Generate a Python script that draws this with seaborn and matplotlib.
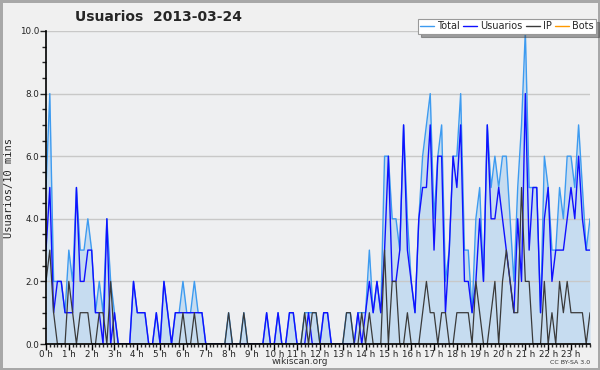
import numpy as np
import pandas as pd
import matplotlib
matplotlib.use("Agg")
import matplotlib.pyplot as plt
import seaborn as sns
from matplotlib.ticker import MultipleLocator, FixedLocator, FormatStrFormatter
from matplotlib.lines import Line2D

# ---- data (one value per 10 minutes, 144 slots) ----
usuarios = [
    3, 5, 1, 2, 2, 1, 1, 1, 5, 2, 2, 3, 3, 1, 1, 0, 4, 0, 1, 0,
    0, 0, 0, 2, 1, 1, 1, 0, 0, 1, 0, 2, 1, 0, 1, 1, 1, 1, 1, 1,
    1, 1, 0, 0, 0, 0, 0, 0, 0, 0, 0, 0, 0, 0, 0, 0, 0, 0, 1, 0,
    0, 1, 0, 0, 1, 1, 0, 0, 0, 1, 0, 0, 0, 1, 1, 0, 0, 0, 0, 0,
    0, 0, 1, 0, 1, 2, 1, 2, 1, 3, 6, 2, 2, 3, 7, 3, 2, 1, 4, 5,
    5, 7, 3, 6, 6, 1, 3, 6, 5, 7, 2, 2, 1, 2, 4, 2, 7, 4, 4, 5,
    4, 3, 2, 1, 4, 2, 8, 3, 5, 5, 1, 4, 5, 2, 3, 3, 3, 4, 5, 4,
    6, 4, 3, 3]
ip = [
    2, 3, 1, 0, 0, 0, 2, 1, 0, 1, 1, 1, 0, 0, 1, 1, 0, 2, 0, 0,
    0, 0, 0, 0, 0, 0, 0, 0, 0, 0, 0, 0, 0, 0, 0, 0, 1, 0, 0, 1,
    0, 0, 0, 0, 0, 0, 0, 0, 1, 0, 0, 0, 1, 0, 0, 0, 0, 0, 0, 0,
    0, 0, 0, 0, 0, 0, 0, 0, 1, 0, 1, 1, 0, 0, 0, 0, 0, 0, 0, 1,
    1, 0, 0, 1, 0, 1, 0, 0, 0, 3, 0, 2, 2, 0, 0, 1, 0, 0, 0, 1,
    2, 1, 1, 0, 1, 1, 0, 0, 1, 1, 1, 1, 0, 2, 1, 0, 0, 1, 2, 0,
    2, 3, 2, 1, 1, 5, 2, 2, 0, 0, 0, 2, 0, 1, 0, 2, 1, 2, 1, 1,
    1, 1, 0, 1]
total = [
    5, 8, 2, 2, 2, 1, 3, 2, 5, 3, 3, 4, 3, 1, 2, 1, 4, 2, 1, 0,
    0, 0, 0, 2, 1, 1, 1, 0, 0, 1, 0, 2, 1, 0, 1, 1, 2, 1, 1, 2,
    1, 1, 0, 0, 0, 0, 0, 0, 1, 0, 0, 0, 1, 0, 0, 0, 0, 0, 1, 0,
    0, 1, 0, 0, 1, 1, 0, 0, 1, 1, 1, 1, 0, 1, 1, 0, 0, 0, 0, 1,
    1, 0, 1, 1, 1, 3, 1, 2, 1, 6, 6, 4, 4, 3, 7, 4, 2, 1, 4, 6,
    7, 8, 4, 6, 7, 2, 3, 6, 6, 8, 3, 3, 1, 4, 5, 2, 7, 5, 6, 5,
    6, 6, 4, 2, 5, 7, 10, 5, 5, 5, 1, 6, 5, 3, 3, 5, 4, 6, 6, 5,
    7, 5, 3, 4]
bots = [
    0, 0, 0, 0, 0, 0, 0, 0, 0, 0, 0, 0, 0, 0, 0, 0, 0, 0, 0, 0,
    0, 0, 0, 0, 0, 0, 0, 0, 0, 0, 0, 0, 0, 0, 0, 0, 0, 0, 0, 0,
    0, 0, 0, 0, 0, 0, 0, 0, 0, 0, 0, 0, 0, 0, 0, 0, 0, 0, 0, 0,
    0, 0, 0, 0, 0, 0, 0, 0, 0, 0, 0, 0, 0, 0, 0, 0, 0, 0, 0, 0,
    0, 0, 0, 0, 0, 0, 0, 0, 0, 0, 0, 0, 0, 0, 0, 0, 0, 0, 0, 0,
    0, 0, 0, 0, 0, 0, 0, 0, 0, 0, 0, 0, 0, 0, 0, 0, 0, 0, 0, 0,
    0, 0, 0, 0, 0, 0, 0, 0, 0, 0, 0, 0, 0, 0, 0, 0, 0, 0, 0, 0,
    0, 0, 0, 0]
hour_labels = ["0 h", "1 h", "2 h", "3 h", "4 h", "5 h", "6 h", "7 h",
               "8 h", "9 h", "10 h", "11 h", "12 h", "13 h", "14 h", "15 h",
               "16 h", "17 h", "18 h", "19 h", "20 h", "21 h", "22 h", "23 h"]
series_names = ["Total", "Usuarios", "IP", "Bots"]

df = pd.DataFrame({"slot": np.arange(len(total)), "Total": total,
                   "Usuarios": usuarios, "IP": ip, "Bots": bots})

sns.set_style("white")
plt.rcParams["font.family"] = ["DejaVu Sans"]

colors = {"Total": "#3d9bf0", "Usuarios": "#1010ff", "IP": "#3a3a3a", "Bots": "#ff9900"}

fig = plt.figure(figsize=(6, 3.7), dpi=100, facecolor="#f0f0f0",
                 edgecolor="#a8a8a8", linewidth=2.5)
ax = fig.add_axes([46 / 600, 26 / 370, 544 / 600, 313 / 370])
ax.set_facecolor("#eeeff1")

ax.fill_between(df["slot"], df["Total"], 0, color="#c6dcf0", lw=0, zorder=1)
sns.lineplot(data=df, x="slot", y="Bots", color=colors["Bots"], lw=1, ax=ax, zorder=2.6)
sns.lineplot(data=df, x="slot", y="Total", color=colors["Total"], lw=1, ax=ax, zorder=3)
sns.lineplot(data=df, x="slot", y="Usuarios", color=colors["Usuarios"], lw=1, ax=ax, zorder=3.1)
sns.lineplot(data=df, x="slot", y="IP", color=colors["IP"], lw=0.9, ax=ax, zorder=3.2)

ax.set_xlim(0, 143)
ax.set_ylim(0, 10)
ax.xaxis.set_major_locator(FixedLocator(range(0, 144, 6)))
ax.set_xticklabels(hour_labels)
ax.xaxis.set_minor_locator(MultipleLocator(1))
ax.yaxis.set_major_locator(MultipleLocator(2))
ax.yaxis.set_major_formatter(FormatStrFormatter("%.1f"))
ax.yaxis.set_minor_locator(MultipleLocator(0.5))
ax.tick_params(axis="x", which="major", direction="out", length=4, width=1,
               labelsize=6.3, pad=0, colors="#000000", labelcolor="#222222")
ax.tick_params(axis="x", which="minor", direction="out", length=2.5, width=1)
ax.tick_params(axis="y", which="major", direction="out", length=4, width=1,
               labelsize=6.3, pad=1, labelcolor="#222222")
ax.tick_params(axis="y", which="minor", direction="out", length=3, width=1)
ax.tick_params(bottom=True, left=True, which="both")

ax.set_axisbelow(False)
ax.yaxis.grid(True, color="#c8c8c8", lw=1, zorder=2.5)
ax.xaxis.grid(False)
for s in ["top", "right"]:
    ax.spines[s].set_visible(False)
for s in ["left", "bottom"]:
    ax.spines[s].set_color("#000000")
    ax.spines[s].set_linewidth(1.2)
    ax.spines[s].set_zorder(4)

ax.set_xlabel("")
ax.set_ylabel("Usuarios/10 mins", family="DejaVu Sans Mono", fontsize=7.5)
ax.yaxis.set_label_coords(-0.058, 0.5)

fig.text(75 / 600, 1 - 17 / 370, "Usuarios  2013-03-24", fontweight="bold",
         fontsize=10, ha="left", va="center")

handles = [Line2D([], [], color=colors[n], lw=1) for n in series_names]
leg = fig.legend(handles, series_names, ncol=4, loc="upper right",
                 bbox_to_anchor=(596 / 600, 1 - 19 / 370), fontsize=7,
                 frameon=True, fancybox=False, shadow=True, framealpha=1,
                 edgecolor="#999999", handlelength=1.4, handletextpad=0.3,
                 columnspacing=0.4, borderpad=0.25, borderaxespad=0)
leg.get_frame().set_linewidth(0.8)

fig.text(0.5, 1 - 362 / 370, "wikiscan.org", ha="center", va="center",
         fontsize=6.5, color="#333333")
fig.text(590 / 600, 1 - 362 / 370, "CC BY-SA 3.0", ha="right", va="center",
         fontsize=4.5, color="#333333")

fig.savefig("out.png", dpi=100, facecolor=fig.get_facecolor(),
            edgecolor=fig.get_edgecolor())
